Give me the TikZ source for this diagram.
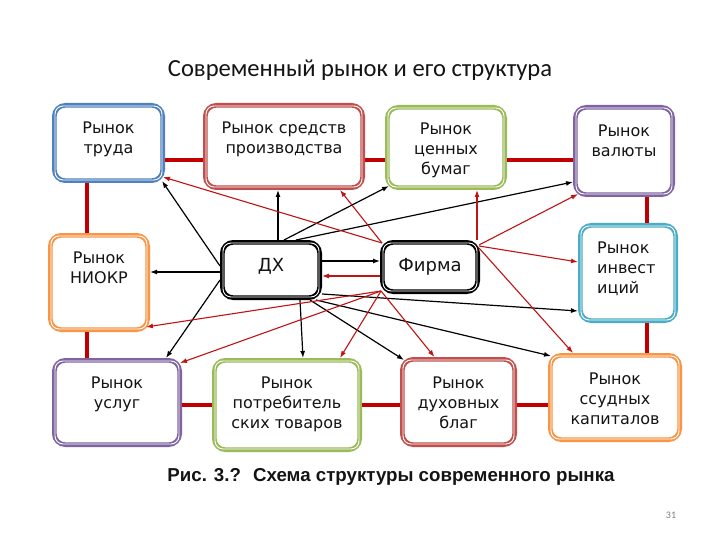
\documentclass[tikz,border=0pt]{standalone}
\usepackage{fontspec}
\setmainfont{DejaVu Sans}
\newfontfamily\ttlfont{Carlito}
\newfontfamily\capfont{Liberation Sans}
\usetikzlibrary{arrows.meta}
\definecolor{cblue}{RGB}{79,129,189}
\definecolor{cred}{RGB}{192,80,77}
\definecolor{cgreen}{RGB}{155,187,89}
\definecolor{cpurple}{RGB}{128,100,162}
\definecolor{corange}{RGB}{247,150,70}
\definecolor{ccyan}{RGB}{75,172,198}
\definecolor{ringc}{RGB}{192,0,0}
\definecolor{arrc}{RGB}{192,20,20}
\definecolor{txtc}{RGB}{20,20,20}
\newcommand\innerline[1]{\draw[inl] ([shift={(3,3)}]#1.north west) rectangle ([shift={(-3,-3)}]#1.south east);}
\begin{document}
\begin{tikzpicture}[x=1pt,y=-1pt,
  box/.style={draw=#1, line width=4.6pt, fill=white, rounded corners=11pt, inner sep=0pt},
  inl/.style={draw=white, line width=0.9pt, rounded corners=8pt},
  txt/.style={font=\fontsize{16}{20}\selectfont, align=center, inner sep=0pt, text=txtc, anchor=north},
  big/.style={font=\fontsize{18}{22}\selectfont, inner sep=0pt, text=txtc, anchor=base},
  ring/.style={draw=ringc, line width=4.5pt},
  barr/.style={draw=black, line width=1.2pt, -{Latex[length=7pt,width=5pt]}},
  rarr/.style={draw=arrc, line width=1.1pt, -{Latex[length=7pt,width=5pt]}}]
\fill[white] (0,0) rectangle (720,540);
\useasboundingbox (0,0) rectangle (720,540);

\node[font=\ttlfont\fontsize{24.6}{28}\selectfont, anchor=base, inner sep=0pt, text=txtc] (title) at (360,77) {Современный рынок и его структура};

\coordinate (toprow) at (0,160);
\coordinate (botrow) at (0,405);
\coordinate (leftcol) at (87,0);
\coordinate (rightcol) at (647,0);

% boxes
\node[box=cblue, minimum width=108.4pt, minimum height=75.4pt] (truda) at (108.5,143) {};
\node[box=cred, minimum width=157.4pt, minimum height=82.4pt] (sred) at (284,146.5) {};
\node[box=cgreen, minimum width=117.4pt, minimum height=80.4pt] (cen) at (446,147.5) {};
\node[box=cpurple, minimum width=97.4pt, minimum height=87.4pt] (val) at (624,151) {};
\node[box=corange, minimum width=97.4pt, minimum height=94.4pt] (niokr) at (99,282.5) {};
\node[box=ccyan, minimum width=95.4pt, minimum height=95.4pt] (inv) at (628,273) {};
\node[box=black, minimum width=97.4pt, minimum height=55.4pt] (dh) at (271,270) {};
\node[box=black, minimum width=95.4pt, minimum height=49.4pt] (firma) at (430,267) {};
\node[box=cpurple, minimum width=125.4pt, minimum height=84.4pt] (uslug) at (117,402.5) {};
\node[box=cgreen, minimum width=145.4pt, minimum height=89.4pt] (potr) at (287,405) {};
\node[box=cred, minimum width=112.4pt, minimum height=85.4pt] (duh) at (458.5,402) {};
\node[box=corange, minimum width=129.4pt, minimum height=84.4pt] (sud) at (615,397.5) {};

% ring connectors
\draw[ring] (truda.east |- toprow) -- (sred.west |- toprow);
\draw[ring] (sred.east |- toprow) -- (cen.west |- toprow);
\draw[ring] (cen.east |- toprow) -- (val.west |- toprow);
\draw[ring] (val.south -| rightcol) -- (inv.north -| rightcol);
\draw[ring] (inv.south -| rightcol) -- (sud.north -| rightcol);
\draw[ring] (sud.west |- botrow) -- (duh.east |- botrow);
\draw[ring] (duh.west |- botrow) -- (potr.east |- botrow);
\draw[ring] (potr.west |- botrow) -- (uslug.east |- botrow);
\draw[ring] (uslug.north -| leftcol) -- (niokr.south -| leftcol);
\draw[ring] (niokr.north -| leftcol) -- (truda.south -| leftcol);

\foreach \n in {truda,sred,cen,val,niokr,inv,dh,firma,uslug,potr,duh,sud}{\innerline{\n}}

% texts
\node[txt] (t-truda) at ([shift={(0,19)}]truda.north) {Рынок\\труда};
\node[txt] (t-sred) at ([shift={(0,19)}]sred.north) {Рынок средств\\производства};
\node[txt] (t-cen) at ([shift={(0,18)}]cen.north) {Рынок\\ценных\\бумаг};
\node[txt] (t-val) at ([shift={(0,20)}]val.north) {Рынок\\валюты};
\node[txt] (t-niokr) at ([shift={(0,19)}]niokr.north) {Рынок\\НИОКР};
\node[txt, anchor=north west, align=left] (t-inv) at ([shift={(19,19)}]inv.north west) {Рынок\\инвест\\иций};
\node[txt] (t-uslug) at ([shift={(0,19)}]uslug.north) {Рынок\\услуг};
\node[txt] (t-potr) at ([shift={(0,19)}]potr.north) {Рынок\\потребитель\\ских товаров};
\node[txt] (t-duh) at ([shift={(0,20)}]duh.north) {Рынок\\духовных\\благ};
\node[txt] (t-sud) at ([shift={(0,20)}]sud.north) {Рынок\\ссудных\\капиталов};
\node[big] (t-dh) at ([shift={(0,1.5)}]dh.center) {ДХ};
\node[big] (t-firma) at ([shift={(0,4.6)}]firma.center) {Фирма};

% black arrows from ДХ
\draw[barr] ([shift={(7,0)}]dh.north) -- ([shift={(-6,0)}]sred.south);
\draw[barr] ([shift={(13,0)}]dh.north) -- ([shift={(4,-4)}]cen.south west);
\draw[barr] ([shift={(25,0)}]dh.north) -- ([shift={(0,31)}]val.west);
\draw[barr] ([shift={(0,-4)}]dh.west) -- ([shift={(-3,-2)}]truda.south east);
\draw[barr] ([shift={(0,2)}]dh.west) -- ([shift={(0,-10.5)}]niokr.east);
\draw[barr] ([shift={(0,10)}]dh.west) -- ([shift={(-16,0)}]uslug.north east);
\draw[barr] ([shift={(0,-9)}]dh.east) -- ([shift={(0,-6)}]firma.west);
\draw[barr] ([shift={(29,0)}]dh.south) -- ([shift={(16,0)}]potr.north);
\draw[barr] ([shift={(39,0)}]dh.south) -- ([shift={(4,3)}]duh.north west);
\draw[barr] ([shift={(-6,0)}]dh.south east) -- ([shift={(3,3)}]sud.north west);
\draw[barr] ([shift={(0,-6)}]dh.south east) -- ([shift={(0,38)}]inv.west);

% red arrows from Фирма
\draw[rarr] ([shift={(2,3)}]firma.north west) -- ([shift={(-2,34)}]truda.east);
\draw[rarr] ([shift={(2,3)}]firma.north west) -- ([shift={(56,0)}]sred.south);
\draw[rarr] ([shift={(-3,0)}]firma.north east) -- ([shift={(31,0)}]cen.south);
\draw[rarr] ([shift={(-1,5)}]firma.north east) -- ([shift={(5,-3)}]val.south west);
\draw[rarr] ([shift={(-1,6)}]firma.north east) -- ([shift={(0,-11)}]inv.west);
\draw[rarr] ([shift={(-1,8)}]firma.north east) -- ([shift={(-42,0)}]sud.north);
\draw[rarr] ([shift={(0,9)}]firma.west) -- ([shift={(0,6)}]dh.east);
\draw[rarr] ([shift={(1,-3)}]firma.south west) -- ([shift={(-4,-5)}]niokr.south east);
\draw[rarr] ([shift={(1,-3)}]firma.south west) -- ([shift={(-2,5)}]uslug.north east);
\draw[rarr] ([shift={(1,-3)}]firma.south west) -- ([shift={(-22,0)}]potr.north east);
\draw[rarr] ([shift={(1,-3)}]firma.south west) -- ([shift={(-24,0)}]duh.north);

\node[font=\capfont\bfseries\fontsize{18.7}{22}\selectfont, anchor=base, inner sep=0pt, text=txtc] (caption) at (391,481) {Рис. 3.? \ Схема структуры современного рынка};
\node[font=\ttlfont\fontsize{10}{12}\selectfont, text=gray, inner sep=0pt] (pagenum) at (671,515) {31};
\end{tikzpicture}
\end{document}
